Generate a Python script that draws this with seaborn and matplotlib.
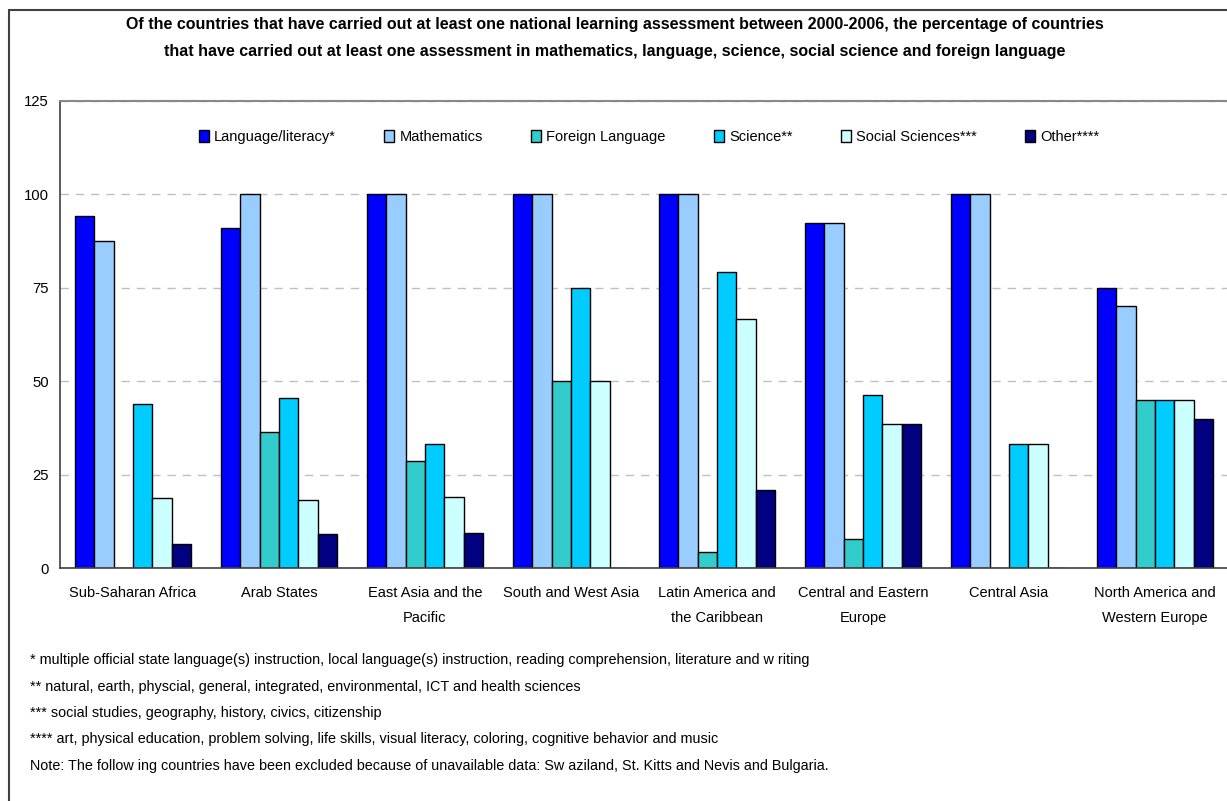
import numpy as np
import pandas as pd
import matplotlib
matplotlib.use("Agg")
import matplotlib.pyplot as plt
from matplotlib.lines import Line2D
import seaborn as sns

regions = ["Sub-Saharan Africa", "Arab States", "East Asia and the\nPacific",
           "South and West Asia", "Latin America and\nthe Caribbean",
           "Central and Eastern\nEurope", "Central Asia",
           "North America and\nWestern Europe"]
subjects = ["Language/literacy*", "Mathematics", "Foreign Language",
            "Science**", "Social Sciences***", "Other****"]
language = [94.1, 90.9, 100, 100, 100, 92.3, 100, 75.0]
mathematics = [87.5, 100, 100, 100, 100, 92.3, 100, 70.0]
foreign = [0, 36.4, 28.6, 50.0, 4.2, 7.7, 0, 45.0]
science = [43.8, 45.5, 33.3, 75.0, 79.2, 46.2, 33.3, 45.0]
social = [18.8, 18.2, 19.0, 50.0, 66.7, 38.5, 33.3, 45.0]
other = [6.3, 9.1, 9.5, 0, 20.8, 38.5, 0, 40.0]
colors = ["#0000FF", "#99CCFF", "#33CCCC", "#00CCFF", "#CCFFFF", "#000080"]
yticks = [0, 25, 50, 75, 100, 125]
title = ("Of the countries that have carried out at least one national learning assessment between 2000-2006, the percentage of countries\n"
         "that have carried out at least one assessment in mathematics, language, science, social science and foreign language")
notes = ["* multiple official state language(s) instruction, local language(s) instruction, reading comprehension, literature and w riting",
         "** natural, earth, physcial, general, integrated, environmental, ICT and health sciences",
         "*** social studies, geography, history, civics, citizenship",
         "**** art, physical education, problem solving, life skills, visual literacy, coloring, cognitive behavior and music",
         "Note: The follow ing countries have been excluded because of unavailable data: Sw aziland, St. Kitts and Nevis and Bulgaria."]

series = [language, mathematics, foreign, science, social, other]
rows = []
for s, vals in zip(subjects, series):
    for r, v in zip(regions, vals):
        rows.append({"region": r, "subject": s, "value": v})
df = pd.DataFrame(rows)

sns.set_theme(style="white")
plt.rcParams["font.family"] = ["Liberation Sans", "DejaVu Sans"]
plt.rcParams["text.color"] = "black"

W, H = 1227, 801
fig = plt.figure(figsize=(W / 100, H / 100), dpi=100)
ax = fig.add_axes([60 / W, (H - 568) / H, 1168 / W, 467 / H])

sns.barplot(data=df, x="region", y="value", hue="subject", order=regions,
            hue_order=subjects, palette=colors, saturation=1.0,
            edgecolor="black", linewidth=1.0, width=0.8, ax=ax, legend=True)

ax.set_ylim(0, 125)
ax.set_xlim(-0.5, 7.5)
ax.set_yticks(yticks)
ax.set_yticklabels([str(t) for t in yticks], fontsize=10.7)
ax.set_xticks(range(len(regions)))
ax.set_xticklabels(regions, fontsize=10.5, linespacing=1.95)
ax.tick_params(axis="both", length=0, pad=8, colors="black")
ax.tick_params(axis="x", pad=13)
ax.set_xlabel("")
ax.set_ylabel("")
ax.yaxis.grid(True, color="#C0C0C0", linestyle=(0, (6, 5)), linewidth=1.0)
ax.set_axisbelow(True)
for side in ["left", "bottom"]:
    ax.spines[side].set_color("#404040")
    ax.spines[side].set_linewidth(1.2)
ax.spines["top"].set_color("#888888")
ax.spines["top"].set_linewidth(1.5)
ax.spines["right"].set_visible(False)

leg = ax.legend(ncol=6, loc="center", bbox_to_anchor=(649 / W, (H - 137) / H),
                bbox_transform=fig.transFigure, frameon=False, fontsize=10.5,
                handlelength=0.7, handleheight=0.9, handletextpad=0.35,
                columnspacing=3.3)
for t in leg.get_texts():
    t.set_color("black")

fig.text(615 / W, (H - 38) / H, title, ha="center", va="center",
         fontsize=11.5, fontweight="bold", linespacing=2.0, color="black")

for i, n in enumerate(notes):
    fig.text(30 / W, (H - (660 + 26.5 * i)) / H, n, ha="left", va="center",
             fontsize=10.4, color="black")

fig.add_artist(Line2D([9 / W, 9 / W], [0, (H - 10) / H], color="#404040",
                      linewidth=1.5, transform=fig.transFigure))
fig.add_artist(Line2D([9 / W, 1.0], [(H - 10) / H, (H - 10) / H],
                      color="#404040", linewidth=1.5, transform=fig.transFigure))

fig.savefig("out.png", dpi=100)
